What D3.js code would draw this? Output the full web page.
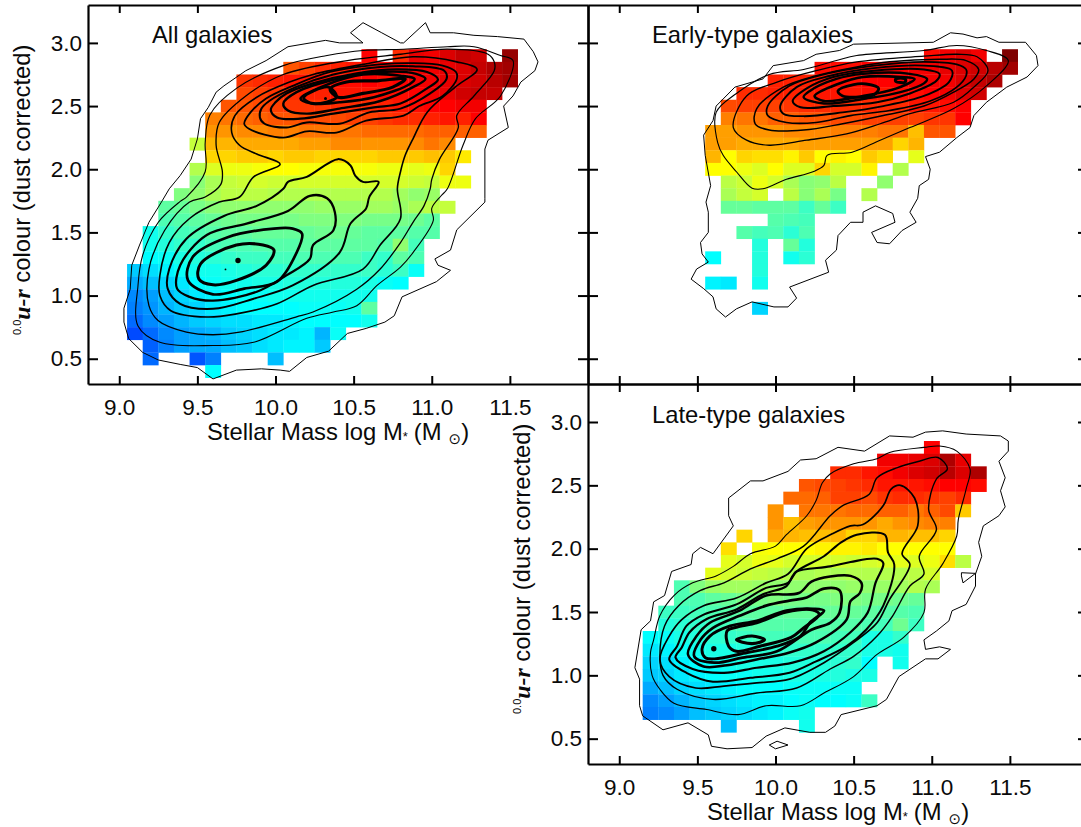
<!DOCTYPE html>
<html>
<head>
<meta charset="utf-8">
<script src="https://cdn.jsdelivr.net/npm/d3@7"></script>
<style>
html,body{margin:0;padding:0;background:#fff;overflow:hidden}
svg{display:block}
text{font-family:"Liberation Sans",Arial,sans-serif;fill:#0a0a0a}
</style>
</head>
<body>
<svg id="chart" width="1081" height="827"></svg>
<script>
// ---- axis ticks
const massTicks = [9.0, 9.5, 10.0, 10.5, 11.0, 11.5];
const colourTicks = [0.5, 1.0, 1.5, 2.0, 2.5, 3.0];

// ---- cell values: each row is [colour, first mass, value, value, ...] (null = empty bin)
const allCells = [
[2.9,10.6,89,null,85,91,90,92,94,93,null,98],
[2.8,10.1,81,83,85,86,87,88,89,89,90,90,91,92,94,96,97],
[2.7,9.8,84,85,86,87,87,88,88,88,89,88,89,90,90,91,92,93,95,97],
[2.6,9.8,82,83,84,85,86,86,87,87,87,88,88,89,90,91,93,94,94],
[2.5,9.7,81,81,82,83,84,84,84,85,85,85,86,87,88,89,89,90,90],
[2.4,9.6,77,78,79,80,81,81,82,82,82,83,83,84,85,85,86,87,86,89],
[2.3,9.6,75,75,76,76,77,77,78,78,78,78,79,79,79,79,80,80,80,80],
[2.2,9.5,58,72,72,73,73,73,73,74,74,76,76,75,75,75,76,78,76],
[2.1,9.6,69,69,70,70,69,70,70,69,69,69,69,70,70,70,71,70,67],
[2.0,9.5,56,61,63,63,64,65,65,64,64,64,64,64,63,63,62,63,69],
[1.9,9.5,51,55,58,59,60,59,59,60,60,60,60,60,60,60,59,58,63,63],
[1.8,9.4,50,52,55,57,57,57,56,56,56,56,56,56,56,56,54,52,53],
[1.7,9.3,46,47,49,51,52,52,52,52,52,52,53,53,53,54,54,53,55,57,58],
[1.6,9.3,44,45,46,47,48,49,49,49,49,50,50,50,50,49,49,49,48,46],
[1.5,9.2,37,41,43,44,45,46,46,47,47,47,47,48,48,47,46,46,46,45,45],
[1.4,9.2,37,39,41,41,43,44,44,45,45,45,46,46,46,46,46,45,52,43],
[1.3,9.2,35,36,38,39,40,41,42,42,43,43,44,44,44,44,42,41,46,44],
[1.2,9.1,30,32,34,36,37,37,38,39,40,40,41,41,41,41,41,42,40,42,36],
[1.1,9.1,27,29,31,33,35,36,37,37,38,38,39,39,39,39,39,38,36,35],
[1.0,9.1,24,26,29,31,33,34,35,36,36,37,37,37,37,37,37,37],
[0.9,9.1,23,25,28,30,31,33,34,35,35,35,35,36,36,36,37,46],
[0.8,9.1,21,24,26,28,30,31,32,32,33,33,34,35,35,35,35,37],
[0.7,9.1,18,21,24,26,27,28,30,31,32,33,33,34,28,36],
[0.6,9.2,20,23,26,27,27,29,30,32,33,34,34,30],
[0.5,9.2,21,null,null,19,23,null,null,null,29],
[0.4,9.6,35]
];
const earlyCells = [
[2.9,11.0,88,90,92,90,null,100],
[2.8,10.3,88,88,88,89,89,89,90,90,91,92,93,95,97],
[2.7,10.0,86,86,86,87,88,88,89,89,89,90,90,90,92,94,96],
[2.6,9.8,85,85,86,86,86,87,87,87,88,87,88,88,89,90,92,93],
[2.5,9.7,82,83,83,83,84,85,85,85,85,85,85,85,87,87,88,89],
[2.4,9.7,77,78,78,80,80,81,81,82,82,83,83,83,83,84,84,89],
[2.3,9.6,74,74,75,75,75,76,76,76,77,77,77,78,78,71,81,81],
[2.2,9.6,74,74,73,73,73,73,74,74,74,74,74,74,69,72],
[2.1,9.6,72,65,69,68,68,66,70,65,66,65,70,68,null,62],
[2.0,9.6,65,65,63,61,65,61,61,69,60,60,66,null,56],
[1.9,9.7,57,59,63,60,55,51,52,57,null,null,52],
[1.8,9.7,55,58,60,null,57,51,55,49,null,56],
[1.7,9.7,47,47,46,46,46,42,47,42],
[1.6,10.0,45,44,43],
[1.5,9.8,45,43,44,40,44],
[1.4,9.9,39,null,47,39],
[1.3,9.6,35,null,null,39,null,37,40],
[1.2,9.9,39],
[1.1,9.6,34,33,null,37],
[0.9,9.9,31]
];
const lateCells = [
[2.8,11.0,89],
[2.7,10.7,90,90,91,92,96,91],
[2.6,10.4,85,85,87,88,90,92,93,95,92,96],
[2.5,10.2,81,82,83,84,85,87,87,87,88,89,89,88],
[2.4,10.1,79,79,80,83,83,82,84,85,85,84,83,85],
[2.3,10.0,75,null,78,78,78,79,79,80,80,78,80,82,70],
[2.2,10.0,75,71,74,75,75,75,75,73,75,76,77,77],
[2.1,9.8,69,null,73,72,71,71,72,69,69,72,72,71,71,69],
[2.0,9.7,68,null,64,65,65,65,66,66,66,67,65,65,65,65,65],
[1.9,9.7,62,60,63,62,60,60,60,60,59,60,61,62,61,63,68,57],
[1.8,9.6,62,60,59,58,57,56,55,56,55,56,56,56,56,57,60],
[1.7,9.4,44,50,53,54,54,53,52,52,52,52,52,53,52,53,54,56,55],
[1.6,9.4,44,44,46,47,49,49,50,49,49,49,50,50,49,49,48,47],
[1.5,9.3,42,42,43,44,45,46,46,46,47,47,47,47,47,46,45,45,44],
[1.4,9.3,39,40,41,42,43,44,45,45,45,45,45,45,45,44,43,48,42],
[1.3,9.2,35,36,38,39,40,41,42,43,43,43,44,44,43,43,38,38,41],
[1.2,9.2,33,34,36,37,38,38,39,40,40,41,41,41,41,41,38,38,37],
[1.1,9.2,31,32,34,35,36,37,38,38,38,39,39,39,40,41,35,null,37],
[1.0,9.2,30,31,33,34,35,36,36,37,37,38,38,38,39,38,38],
[0.9,9.2,27,29,31,32,33,34,35,35,35,36,36,36,36,36],
[0.8,9.2,24,26,28,30,31,32,33,34,34,35,36,35,35,36,42],
[0.7,9.2,23,24,26,29,30,31,32,33,34,36,37],
[0.6,9.7,29,null,null,null,null,37]
];

// ---- contour vertices: flat lists of mass, colour
const allContours = [
[10.48,3.08,10.56,3.16,10.68,3.08,10.80,3.00,10.82,3.00,10.96,3.16,10.99,3.08,11.14,3.08,11.27,3.06,11.42,3.05,11.59,3.03,11.65,2.93,11.68,2.85,11.66,2.78,11.57,2.69,11.52,2.58,11.46,2.50,11.49,2.33,11.36,2.23,11.34,2.16,11.34,1.77,11.34,1.74,11.16,1.52,11.12,1.36,11.02,1.29,11.04,1.24,11.12,1.20,11.03,1.11,10.81,.99,10.76,.84,10.70,.79,10.58,.74,10.46,.70,10.34,.56,10.20,.51,10.09,.40,10.03,.41,9.91,.42,9.75,.41,9.60,.34,9.50,.43,9.39,.455,9.25,.49,9.15,.55,9.06,.66,9.03,.79,9.03,.90,9.07,1.05,9.08,1.24,9.13,1.40,9.19,1.58,9.27,1.74,9.32,1.845,9.39,1.95,9.46,2.08,9.50,2.24,9.52,2.40,9.57,2.49,9.62,2.61,9.67,2.66,9.81,2.78,9.94,2.86,10.08,2.97,10.32,3.02,10.41,3.00,10.56,3.00],
[11.52,2.86,11.44,2.90,11.27,2.97,11.10,2.97,10.82,2.95,10.56,2.94,10.33,2.90,10.05,2.82,9.75,2.64,9.58,2.43,9.55,2.21,9.55,1.98,9.43,1.78,9.39,1.745,9.25,1.58,9.15,1.32,9.12,1.08,9.12,.76,9.26,.63,9.60,.605,9.86,.63,10.20,.82,10.37,.87,10.52,.92,10.65,1.08,10.80,1.225,10.88,1.34,11.01,1.595,11.00,1.69,11.06,1.79,11.10,1.845,11.20,2.19,11.28,2.40,11.44,2.58],
[11.40,2.85,11.36,2.91,11.10,2.95,10.80,2.91,10.46,2.86,10.05,2.75,9.81,2.58,9.64,2.37,9.62,2.19,9.66,1.98,9.65,1.88,9.55,1.78,9.45,1.74,9.29,1.515,9.19,1.21,9.19,.92,9.25,.80,9.43,.71,9.60,.69,9.77,.71,10.13,.83,10.24,.87,10.52,1.05,10.67,1.21,10.80,1.42,10.88,1.58,10.95,1.71,10.99,1.845,11.00,1.92,11.05,2.08,11.17,2.33,11.16,2.425,11.27,2.58,11.40,2.78],
[11.29,2.79,11.16,2.85,10.88,2.89,10.56,2.83,10.24,2.75,10.09,2.69,9.88,2.57,9.74,2.425,9.72,2.29,9.77,2.19,9.88,2.12,10.03,2.04,9.86,1.94,9.77,1.78,9.64,1.74,9.45,1.61,9.32,1.42,9.26,1.16,9.26,1.00,9.33,.88,9.56,.83,9.75,.855,10.01,.935,10.24,1.08,10.56,1.21,10.67,1.40,10.80,1.61,10.78,1.845,10.80,1.98,10.83,2.11,10.88,2.24,10.97,2.45,11.15,2.65],
[10.05,1.845,10.08,1.90,10.20,1.94,10.40,2.08,10.48,2.03,10.51,1.95,10.56,1.90,10.66,1.90,10.60,1.78,10.58,1.69,10.48,1.57,10.41,1.34,10.11,1.08,9.86,.975,9.60,.895,9.39,.935,9.31,1.055,9.32,1.21,9.43,1.45,9.67,1.63,9.88,1.71],
[10.38,1.66,10.33,1.77,10.22,1.79,10.08,1.67,9.815,1.57,9.56,1.48,9.39,1.24,9.37,1.055,9.45,.99,9.60,.96,9.88,1.03,10.07,1.16,10.22,1.29,10.24,1.40,10.37,1.515],
[10.17,1.49,10.11,1.53,9.99,1.53,9.69,1.46,9.47,1.305,9.44,1.12,9.60,1.01,9.80,1.055,10.01,1.11,10.135,1.34],
[9.99,1.36,9.92,1.40,9.75,1.40,9.52,1.25,9.51,1.13,9.60,1.085,9.75,1.12,9.94,1.24],
[9.80,2.36,9.83,2.32,10.05,2.25,10.20,2.30,10.39,2.29,10.58,2.385,10.82,2.425,10.92,2.50,11.07,2.58,11.16,2.715,11.155,2.77,11.07,2.82,10.88,2.84,10.67,2.83,10.35,2.77,10.11,2.66,9.94,2.56,9.84,2.45],
[9.90,2.41,9.93,2.36,10.07,2.33,10.20,2.37,10.41,2.36,10.60,2.45,10.80,2.48,10.99,2.60,11.095,2.715,11.08,2.78,10.88,2.815,10.67,2.81,10.37,2.75,10.13,2.65,9.96,2.54,9.91,2.48],
[9.97,2.47,10.01,2.41,10.16,2.40,10.37,2.44,10.63,2.49,10.80,2.52,10.97,2.64,11.04,2.71,10.97,2.77,10.775,2.79,10.52,2.76,10.24,2.68,10.07,2.60,10.0,2.53],
[10.05,2.52,10.08,2.465,10.20,2.44,10.41,2.48,10.67,2.54,10.88,2.65,10.96,2.715,10.90,2.755,10.67,2.77,10.41,2.72,10.135,2.61],
[10.16,2.56,10.23,2.52,10.41,2.53,10.63,2.57,10.86,2.675,10.89,2.715,10.80,2.74,10.56,2.75,10.34,2.675],
[10.18,2.565,10.34,2.65,10.39,2.57,10.24,2.52],
[10.35,2.635,10.40,2.57,10.56,2.60,10.75,2.65,10.83,2.715,10.65,2.70,10.455,2.69]
];
const allWidths = [1,1.1,1.3,1.6,2,2.3,2.7,3,1.8,2,2.2,2.4,2.6,2.9,3.2];
const allPeaks = [[9.76,1.278,2.7],[9.68,1.207,0.9],[10.32,2.56,1.5]];

const earlyContours = [
[11.12,3.08,11.20,3.07,11.29,3.04,11.35,3.05,11.43,3.005,11.60,3.005,11.67,2.90,11.68,2.82,11.61,2.73,11.48,2.65,11.35,2.53,11.27,2.425,11.245,2.33,11.16,2.25,11.05,2.135,10.96,2.10,10.99,2.00,10.98,1.92,10.92,1.87,10.91,1.77,10.86,1.66,10.90,1.58,10.81,1.515,10.73,1.41,10.65,1.42,10.615,1.50,10.765,1.58,10.75,1.65,10.64,1.71,10.56,1.66,10.56,1.58,10.48,1.58,10.40,1.475,10.39,1.36,10.32,1.28,10.34,1.185,10.09,1.067,10.135,.98,10.08,.91,9.99,.91,9.85,.95,9.75,.895,9.68,.83,9.62,.895,9.60,.99,9.54,1.055,9.46,1.13,9.495,1.21,9.57,1.265,9.53,1.33,9.52,1.42,9.57,1.50,9.57,1.66,9.555,1.74,9.585,1.87,9.55,2.11,9.54,2.27,9.60,2.385,9.62,2.50,9.74,2.65,9.92,2.715,9.985,2.82,10.18,2.86,10.26,2.91,10.41,2.94,10.50,2.99,11.01,3.005],
[11.49,2.86,11.35,2.94,11.16,2.98,10.95,2.94,10.52,2.90,10.39,2.86,10.18,2.79,9.96,2.75,9.75,2.60,9.62,2.45,9.63,2.21,9.665,2.11,9.75,1.98,9.85,1.85,9.92,1.845,10.07,1.92,10.24,1.98,10.31,2.03,10.33,2.11,10.49,2.135,10.67,2.23,10.86,2.33,11.14,2.48,11.35,2.66],
[11.36,2.78,11.29,2.89,11.16,2.91,10.95,2.895,10.52,2.85,10.26,2.78,10.01,2.69,9.815,2.58,9.73,2.33,9.815,2.23,9.96,2.19,10.20,2.23,10.455,2.28,10.67,2.36,10.86,2.44,11.14,2.53,11.27,2.65],
[11.30,2.79,11.22,2.86,11.05,2.87,10.73,2.85,10.52,2.81,10.26,2.74,10.05,2.65,9.88,2.48,9.87,2.36,9.96,2.31,10.18,2.31,10.43,2.36,10.69,2.425,10.95,2.50,11.14,2.61,11.27,2.715],
[11.22,2.79,11.16,2.83,10.95,2.85,10.63,2.82,10.31,2.75,10.09,2.66,9.95,2.50,9.95,2.425,10.07,2.37,10.26,2.37,10.48,2.425,10.73,2.465,10.99,2.54,11.16,2.65,11.22,2.74],
[11.13,2.78,10.95,2.82,10.63,2.80,10.35,2.74,10.135,2.65,10.03,2.50,10.05,2.44,10.18,2.42,10.43,2.45,10.69,2.50,10.95,2.58,11.11,2.69],
[11.05,2.755,10.95,2.79,10.63,2.78,10.37,2.73,10.20,2.64,10.11,2.54,10.16,2.49,10.37,2.50,10.65,2.53,10.86,2.60,11.03,2.70],
[10.97,2.715,10.86,2.755,10.56,2.755,10.39,2.715,10.22,2.62,10.18,2.57,10.31,2.52,10.58,2.56,10.80,2.61,10.95,2.68],
[10.89,2.715,10.80,2.73,10.56,2.73,10.40,2.675,10.25,2.58,10.31,2.54,10.56,2.58,10.775,2.64],
[10.40,2.62,10.50,2.67,10.58,2.675,10.66,2.64,10.63,2.59,10.50,2.57,10.43,2.58],
[10.77,2.715,10.83,2.715,10.83,2.69,10.77,2.695]
];
const earlyWidths = [1,1.1,1.3,1.5,1.7,1.9,2.1,2.4,2.6,2.9,3];
const earlyPeaks = [];

const lateContours = [
[10.96,2.92,11.07,2.93,11.22,2.905,11.44,2.89,11.49,2.85,11.49,2.77,11.43,2.69,11.47,2.56,11.44,2.457,11.47,2.33,11.43,2.26,11.33,2.18,11.30,2.05,11.32,1.94,11.28,1.80,11.28,1.705,11.22,1.56,11.13,1.51,11.11,1.43,11.03,1.35,10.95,1.28,10.96,1.205,11.05,1.225,11.12,1.205,11.04,1.13,10.96,1.13,10.79,.99,10.71,.81,10.65,.76,10.42,.69,10.38,.60,10.32,.55,10.22,.55,10.06,.585,9.94,.52,9.85,.43,9.69,.42,9.59,.44,9.57,.53,9.44,.625,9.28,.57,9.15,.68,9.13,.76,9.13,.97,9.10,1.06,9.14,1.36,9.20,1.43,9.22,1.58,9.29,1.63,9.335,1.82,9.46,1.875,9.47,1.96,9.52,2.01,9.60,1.96,9.73,2.18,9.70,2.26,9.70,2.40,9.84,2.535,9.92,2.535,10.08,2.61,10.16,2.70,10.26,2.71,10.40,2.80,10.57,2.77,10.73,2.89,10.88,2.88],
[11.19,1.81,11.28,1.805,11.20,1.73,11.19,1.785],
[9.96,.45,10.01,.48,10.08,.45,10.0,.42],
[11.16,2.77,11.05,2.81,10.95,2.80,10.73,2.76,10.65,2.71,10.50,2.67,10.35,2.59,10.30,2.52,10.26,2.38,10.20,2.26,10.07,2.11,10.0,2.02,9.84,1.96,9.73,1.86,9.62,1.785,9.47,1.73,9.35,1.63,9.26,1.47,9.22,1.28,9.20,1.18,9.21,1.00,9.26,.89,9.35,.78,9.56,.73,9.76,.69,9.94,.76,10.16,.76,10.31,.86,10.50,.99,10.65,1.165,10.82,1.30,10.95,1.495,10.96,1.68,11.07,1.88,11.16,2.10,11.17,2.23,11.22,2.47,11.245,2.63],
[11.10,2.63,11.04,2.72,10.92,2.69,10.78,2.64,10.65,2.56,10.60,2.43,10.43,2.34,10.35,2.26,10.18,2.02,10.01,1.92,9.84,1.84,9.67,1.73,9.52,1.67,9.38,1.55,9.29,1.39,9.26,1.15,9.28,1.00,9.37,.89,9.60,.81,9.88,.86,10.135,.90,10.35,1.05,10.50,1.15,10.65,1.31,10.75,1.47,10.86,1.705,10.95,1.80,10.92,1.94,11.03,2.15,10.98,2.31,11.03,2.55],
[10.89,2.40,10.80,2.50,10.74,2.47,10.69,2.34,10.56,2.19,10.48,2.18,10.36,2.115,10.20,2.00,10.08,1.80,9.94,1.73,9.75,1.61,9.54,1.55,9.40,1.44,9.32,1.31,9.26,1.125,9.32,.99,9.49,.90,9.67,.915,9.88,.94,10.09,.97,10.31,1.10,10.50,1.26,10.65,1.415,10.73,1.60,10.86,1.875,10.81,1.96,10.91,2.18],
[10.70,2.11,10.52,2.11,10.42,2.05,10.31,1.94,10.135,1.82,10.08,1.73,9.94,1.69,9.75,1.56,9.54,1.48,9.43,1.39,9.37,1.23,9.32,1.125,9.43,1.02,9.60,.95,9.84,.98,10.09,1.02,10.26,1.11,10.455,1.23,10.58,1.36,10.69,1.55,10.76,1.875,10.72,1.97],
[10.69,1.885,10.65,1.92,10.48,1.895,10.35,1.86,10.135,1.82,10.11,1.785,10.07,1.705,9.92,1.64,9.75,1.52,9.56,1.445,9.45,1.34,9.40,1.22,9.36,1.14,9.47,1.05,9.67,1.02,9.88,1.06,10.11,1.10,10.31,1.19,10.48,1.34,10.59,1.495,10.64,1.73],
[10.55,1.73,10.48,1.785,10.35,1.78,10.23,1.74,10.15,1.65,9.94,1.63,9.77,1.51,9.58,1.415,9.495,1.31,9.44,1.165,9.54,1.07,9.69,1.08,9.88,1.125,10.09,1.18,10.26,1.26,10.455,1.44,10.48,1.585,10.54,1.65],
[10.41,1.67,10.31,1.685,10.20,1.615,10.09,1.59,9.94,1.55,9.77,1.47,9.60,1.375,9.52,1.28,9.48,1.15,9.61,1.10,9.79,1.14,10.01,1.19,10.23,1.36,10.35,1.415,10.41,1.495],
[10.31,1.51,10.24,1.525,10.07,1.51,9.88,1.43,9.71,1.39,9.58,1.31,9.53,1.21,9.55,1.14,9.61,1.13,9.82,1.18,10.01,1.23,10.16,1.31,10.22,1.415],
[9.69,1.35,9.70,1.23,9.75,1.19,9.90,1.23,10.10,1.30,10.18,1.375,10.28,1.48,10.24,1.515,10.07,1.50,9.88,1.415,9.75,1.38],
[9.75,1.28,9.85,1.31,9.93,1.28,9.85,1.25]
];
const lateWidths = [1,1,1,1.1,1.4,1.7,2,2.2,2.5,2.7,2.9,3,3.1];
const latePeaks = [[9.605,1.21,2.7]];

// ---- text
const panelTitles = ["All galaxies", "Early-type galaxies", "Late-type galaxies"];

// ---- scales
const svg = d3.select("#chart");
const jet = d3.scaleLinear()
  .domain([0, 11, 35, 65, 89, 100])
  .range(["#00007f", "#0000ff", "#00ffff", "#ffff00", "#ff0000", "#7f0000"])
  .clamp(true);
const massDomain = [8.8, 12.0];
const colourDomain = [0.3, 3.3];
const fmt = d3.format(".1f");

function pairs(flat) {
  const out = [];
  for (let i = 0; i < flat.length; i += 2) out.push([flat[i], flat[i + 1]]);
  return out;
}

function panel(cfg) {
  const x = d3.scaleLinear(massDomain, cfg.xr);
  const y = d3.scaleLinear(colourDomain, cfg.yr);
  const g = svg.append("g");

  // cells
  const cells = [];
  cfg.cells.forEach(r => {
    r.slice(2).forEach((v, i) => {
      if (v !== null) cells.push({ c: r[0], m: r[1] + i * 0.1, v });
    });
  });
  g.append("g").selectAll("rect").data(cells).join("rect")
    .attr("x", d => x(d.m - 0.05))
    .attr("y", d => y(d.c + 0.05))
    .attr("width", d => x(d.m + 0.05) - x(d.m - 0.05) + 0.3)
    .attr("height", d => y(d.c - 0.05) - y(d.c + 0.05) + 0.3)
    .attr("fill", d => jet(d.v));

  // contours: the outermost level stays jagged, the inner ones are gently rounded
  const jagged = d3.line().x(d => x(d[0])).y(d => y(d[1])).curve(d3.curveLinearClosed);
  const rounded = d3.line().x(d => x(d[0])).y(d => y(d[1])).curve(d3.curveCatmullRomClosed.alpha(0.5));
  g.append("g").selectAll("path").data(cfg.contours).join("path")
    .attr("d", (d, i) => (i < cfg.jaggedCount ? jagged : rounded)(pairs(d)))
    .attr("fill", "none")
    .attr("stroke", "#000")
    .attr("stroke-linejoin", "round")
    .attr("stroke-width", (d, i) => cfg.widths[i]);
  g.append("g").selectAll("circle").data(cfg.peaks).join("circle")
    .attr("cx", d => x(d[0])).attr("cy", d => y(d[1])).attr("r", d => d[2])
    .attr("fill", "#000");

  // axes, all ticks inward
  const bottom = d3.axisBottom(x).tickValues(massTicks).tickSizeOuter(0).tickSizeInner(-8)
    .tickPadding(15).tickFormat(cfg.xLabels ? fmt : "");
  const top = d3.axisTop(x).tickValues(massTicks).tickSizeOuter(0).tickSizeInner(-8).tickFormat("");
  const left = d3.axisLeft(y).tickValues(colourTicks).tickSizeOuter(0).tickSizeInner(-10)
    .tickPadding(6).tickFormat(cfg.yLabels ? fmt : "");
  const right = d3.axisRight(y).tickValues(colourTicks).tickSizeOuter(0).tickSizeInner(-10).tickFormat("");
  const axes = [
    [bottom, `translate(0,${cfg.yr[0]})`],
    [top, `translate(0,${cfg.yr[1]})`],
    [left, `translate(${cfg.xr[0]},0)`],
    [right, `translate(${cfg.xr[1]},0)`]
  ];
  axes.forEach(([axis, tf]) => {
    const a = g.append("g").attr("transform", tf).call(axis);
    a.selectAll("path.domain").attr("stroke", "#000").attr("stroke-width", 2.2);
    a.selectAll("line").attr("stroke", "#000").attr("stroke-width", 2);
    a.selectAll("text").attr("font-size", 22.5).attr("font-family", '"Liberation Sans",Arial,sans-serif').attr("fill", "#0a0a0a");
  });

  // title
  g.append("text").attr("x", cfg.tx).attr("y", cfg.ty).attr("font-size", 23.8).text(cfg.title);
  return g;
}

function massLabel(xpos, ypos) {
  const t = svg.append("text").attr("x", xpos).attr("y", ypos).attr("font-size", 23.8);
  t.append("tspan").text("Stellar Mass log M");
  t.append("tspan").attr("font-size", 13).attr("dy", 1).text("*");
  t.append("tspan").attr("dy", -1).attr("dx", 6).text("(M");
  t.append("tspan").attr("dx", 7).attr("dy", 3.5).attr("font-size", 15).attr("font-family", '"DejaVu Sans"').text("\u2299");
  t.append("tspan").attr("dy", -3.5).attr("dx", 0).text(")");
}

function colourLabel(xpos, ypos) {
  const t = svg.append("text").attr("transform", `translate(${xpos},${ypos}) rotate(-90)`).attr("font-size", 23.8);
  t.append("tspan").attr("font-size", 11).attr("dy", -9).text("0.0");
  t.append("tspan").attr("dy", 9).attr("font-family", '"Liberation Serif"').attr("font-weight", "bold").attr("font-style", "italic").text("u-r");
  t.append("tspan").text(" colour (dust corrected)");
}

panel({ xr: [88, 588], yr: [384, 5], cells: allCells, contours: allContours, widths: allWidths, peaks: allPeaks, jaggedCount: 1,
  xLabels: true, yLabels: true, title: panelTitles[0], tx: 152, ty: 43 });
panel({ xr: [588, 1088], yr: [384, 5], cells: earlyCells, contours: earlyContours, widths: earlyWidths, peaks: earlyPeaks, jaggedCount: 1,
  xLabels: false, yLabels: false, title: panelTitles[1], tx: 652, ty: 43 });
panel({ xr: [588, 1088], yr: [764, 384], cells: lateCells, contours: lateContours, widths: lateWidths, peaks: latePeaks, jaggedCount: 3,
  xLabels: true, yLabels: true, title: panelTitles[2], tx: 652, ty: 423 });

massLabel(207, 440);
massLabel(707, 820);
colourLabel(30, 335);
colourLabel(530, 714);
</script>
</body>
</html>
